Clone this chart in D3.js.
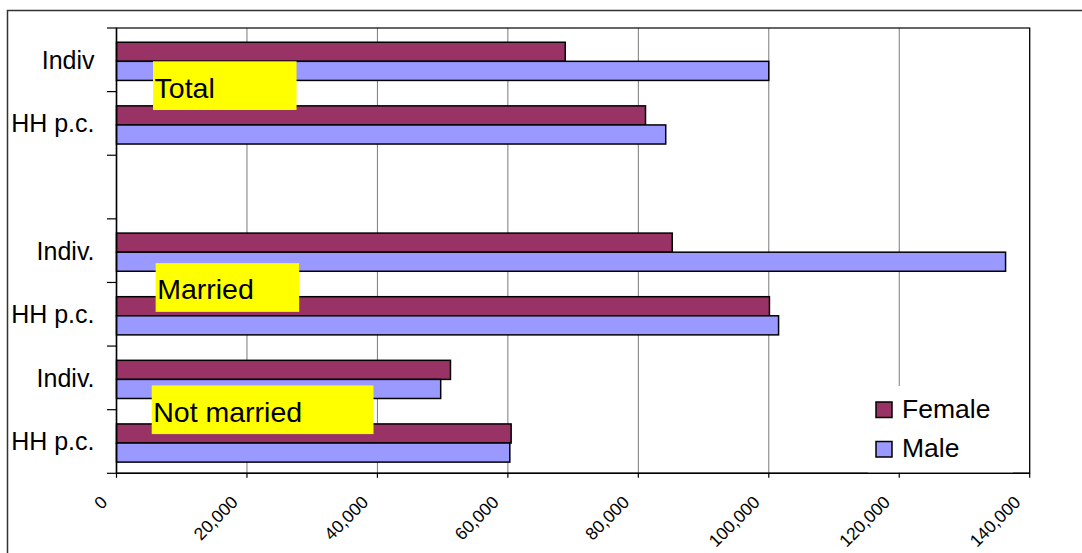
<!DOCTYPE html>
<html>
<head>
<meta charset="utf-8">
<title>Female / Male, Total - Married - Not married</title>
<style>
  body { margin: 0; background: #fff; font-family: "Liberation Sans", Arial, Helvetica, sans-serif; }
  svg text { font-family: "Liberation Sans", Arial, Helvetica, sans-serif; fill: #000; }
</style>
</head>
<body>
<svg id="chart" width="1082" height="553"></svg>
<script src="https://d3js.org/d3.v7.min.js"></script>
<script>

// categories top to bottom (the empty one is the gap between Total and Married)
const categories = ["Indiv", "HH p.c.", "", "Indiv.", "HH p.c.", "Indiv.", "HH p.c."];
const female = [68800, 81100, null, 85200, 100100, 51200, 60500];
const male   = [100000, 84200, null, 136300, 101500, 49700, 60300];
const seriesNames = ["Female", "Male"];
const seriesColors = ["#993366", "#9999ff"];
const xTicks = [0, 20000, 40000, 60000, 80000, 100000, 120000, 140000];

// yellow group labels: text, category they sit under, start value, width in value units
const groupLabels = ["Total", "Married", "Not married"];
const groupAfter = [0, 3, 5];
const groupStart = [5600, 6000, 5400];
const groupWidth = [22000, 22000, 34000];
const groupShift = [-6, 5, 0];

const svg = d3.select('#chart');
const plot = { left: 116.5, right: 1029.7, top: 28, bottom: 473.3 };

function translate(x, y) { return 'translate(' + x + ',' + y + ')'; }

// outer chart frame
svg.append('rect')
  .attr('x', 7.5).attr('y', 10.5)
  .attr('width', 1100).attr('height', 600)
  .attr('fill', 'none').attr('stroke', '#333').attr('stroke-width', 1.5);

let x = d3.scaleLinear().domain([0, 140000]).range([plot.left, plot.right]);
let y = d3.scaleBand().domain(d3.range(categories.length))
  .range([plot.top, plot.bottom]).paddingInner(0.4).paddingOuter(0.2).align(0.56);
let sub = d3.scaleBand().domain(seriesNames).range([0, y.bandwidth()]);
let step = (plot.bottom - plot.top) / categories.length;
let bounds = d3.range(categories.length + 1).map(i => plot.top + i * step);

// gridlines
svg.append('g').selectAll('line')
  .data(xTicks.slice(1))
  .enter().append('line')
  .attr('x1', d => x(d)).attr('x2', d => x(d))
  .attr('y1', plot.top).attr('y2', plot.bottom)
  .attr('stroke', '#7a7a7a').attr('stroke-width', 1);

// plot area border
svg.append('rect')
  .attr('x', plot.left).attr('y', plot.top)
  .attr('width', plot.right - plot.left).attr('height', plot.bottom - plot.top)
  .attr('fill', 'none').attr('stroke', '#000').attr('stroke-width', 1.2);

// bars
let rows = [];
categories.forEach((c, i) => {
  if (female[i] != null) rows.push({ i: i, s: "Female", v: female[i] });
  if (male[i] != null) rows.push({ i: i, s: "Male", v: male[i] });
});
let color = d3.scaleOrdinal().domain(seriesNames).range(seriesColors);

svg.append('g').selectAll('rect')
  .data(rows)
  .enter().append('rect')
  .attr('x', x(0))
  .attr('y', d => y(d.i) + sub(d.s))
  .attr('width', d => x(d.v) - x(0))
  .attr('height', sub.bandwidth())
  .attr('fill', d => color(d.s))
  .attr('stroke', '#000').attr('stroke-width', 1.5);

// y axis line + ticks at category boundaries
svg.append('line')
  .attr('x1', plot.left).attr('x2', plot.left)
  .attr('y1', plot.top).attr('y2', plot.bottom)
  .attr('stroke', '#000').attr('stroke-width', 1.5);
svg.append('g').selectAll('line')
  .data(bounds)
  .enter().append('line')
  .attr('x1', plot.left - 9.5).attr('x2', plot.left)
  .attr('y1', d => d).attr('y2', d => d)
  .attr('stroke', '#000').attr('stroke-width', 1.2);

// x axis line + ticks
svg.append('line')
  .attr('x1', plot.left).attr('x2', plot.right)
  .attr('y1', plot.bottom).attr('y2', plot.bottom)
  .attr('stroke', '#000').attr('stroke-width', 1.5);
svg.append('g').selectAll('line')
  .data(xTicks)
  .enter().append('line')
  .attr('x1', d => x(d)).attr('x2', d => x(d))
  .attr('y1', plot.bottom).attr('y2', plot.bottom + 4.5)
  .attr('stroke', '#000').attr('stroke-width', 1.2);

svg.append('g').selectAll('text')
  .data(xTicks)
  .enter().append('text')
  .attr('transform', d => translate(x(d) - 8, plot.bottom + 30) + ' rotate(-45)')
  .attr('text-anchor', 'end')
  .style('font-size', '17.5px')
  .text(d => d3.format(',')(d));

// category labels
svg.append('g').selectAll('text')
  .data(categories)
  .enter().append('text')
  .attr('x', 94.5)
  .attr('y', (d, i) => plot.top + (i + 0.5) * step)
  .attr('dy', '0.36em')
  .attr('text-anchor', 'end')
  .style('font-size', '25px')
  .text(d => d);

// yellow group labels
let groups = svg.append('g').selectAll('g')
  .data(groupLabels)
  .enter().append('g')
  .attr('transform', (d, i) => translate(x(groupStart[i]), bounds[groupAfter[i] + 1] + groupShift[i] - 24.3));
groups.append('rect')
  .attr('width', (d, i) => x(groupWidth[i]) - x(0))
  .attr('height', 48.7)
  .attr('fill', '#ffff00');
groups.append('text')
  .attr('x', 1.5).attr('y', 36.2)
  .style('font-size', '28.5px')
  .text(d => d);

// legend
let legend = svg.append('g').attr('transform', translate(868, 386));
legend.append('rect')
  .attr('width', 145).attr('height', plot.bottom - 386 - 1)
  .attr('fill', '#fff');
let items = legend.selectAll('g.item')
  .data(seriesNames)
  .enter().append('g')
  .attr('class', 'item')
  .attr('transform', (d, i) => translate(8, 16 + i * 39.5));
items.append('rect')
  .attr('width', 16).attr('height', 15.5)
  .attr('fill', d => color(d))
  .attr('stroke', '#000').attr('stroke-width', 1.5);
items.append('text')
  .attr('x', 26).attr('y', 15.5)
  .style('font-size', '26.5px')
  .text(d => d);

</script>
</body>
</html>
